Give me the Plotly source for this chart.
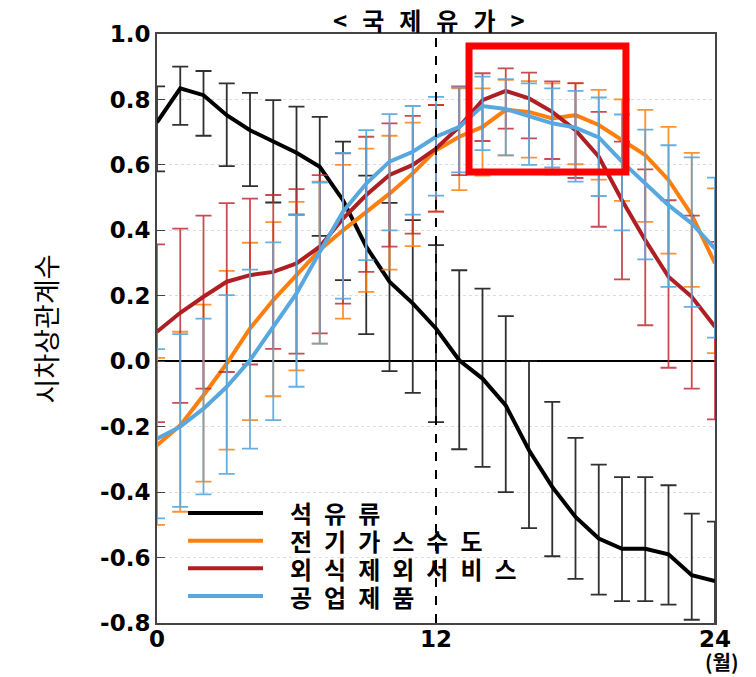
import plotly.graph_objects as go

months = list(range(25))

series_names = ["석유류", "전기가스수도", "외식제외서비스", "공업제품"]

oil = [0.73, 0.834, 0.813, 0.752, 0.706, 0.671, 0.637, 0.594, 0.492, 0.35, 0.243, 0.177, 0.10,
       0.003, -0.053, -0.135, -0.272, -0.384, -0.476, -0.542, -0.573, -0.573, -0.59, -0.654, -0.672]
oil_hi = [0.84, 0.90, 0.887, 0.849, 0.82, 0.798, 0.778, 0.747, 0.671, 0.567, 0.484, 0.431, 0.355,
          0.278, 0.222, 0.138, 0.0, -0.124, -0.234, -0.316, -0.354, -0.354, -0.379, -0.466, -0.49]
oil_lo = [0.58, 0.722, 0.689, 0.596, 0.535, 0.485, 0.448, 0.383, 0.248, 0.083, -0.03, -0.097, -0.186,
          -0.269, -0.323, -0.40, -0.51, -0.596, -0.665, -0.713, -0.733, -0.733, -0.744, -0.79, -0.86]

util = [-0.257, -0.196, -0.104, -0.007, 0.1, 0.187, 0.263, 0.34, 0.40, 0.457, 0.512, 0.574, 0.645,
        0.686, 0.716, 0.768, 0.762, 0.742, 0.752, 0.722, 0.676, 0.63, 0.554, 0.447, 0.299]
util_hi = [0.01, 0.09, 0.173, 0.276, 0.362, 0.425, 0.487, 0.549, 0.60, 0.65, 0.689, 0.729, 0.783,
           0.834, 0.834, 0.86, 0.856, 0.849, 0.849, 0.829, 0.80, 0.768, 0.716, 0.637, 0.528]
util_lo = [-0.50, -0.46, -0.368, -0.27, -0.18, -0.107, -0.028, 0.054, 0.13, 0.212, 0.28, 0.352, 0.457,
           0.523, 0.567, 0.629, 0.622, 0.57, 0.602, 0.555, 0.49, 0.426, 0.329, 0.227, 0.025]

svc = [0.09, 0.148, 0.197, 0.243, 0.263, 0.273, 0.299, 0.35, 0.436, 0.508, 0.569, 0.60, 0.65,
       0.716, 0.798, 0.826, 0.803, 0.762, 0.706, 0.625, 0.492, 0.37, 0.258, 0.197, 0.105]
svc_hi = [0.357, 0.405, 0.445, 0.483, 0.497, 0.508, 0.526, 0.569, 0.635, 0.686, 0.727, 0.75, 0.783,
          0.84, 0.88, 0.895, 0.882, 0.855, 0.85, 0.762, 0.671, 0.586, 0.492, 0.445, 0.365]
svc_lo = [-0.186, -0.127, -0.084, -0.033, -0.01, 0.038, 0.023, 0.085, 0.176, 0.273, 0.35, 0.39, 0.457,
          0.569, 0.673, 0.711, 0.681, 0.618, 0.56, 0.411, 0.25, 0.11, -0.02, -0.084, -0.178]

ind = [-0.237, -0.2, -0.145, -0.078, 0.003, 0.105, 0.207, 0.334, 0.457, 0.543, 0.61, 0.64, 0.686,
       0.716, 0.78, 0.771, 0.749, 0.727, 0.714, 0.684, 0.61, 0.543, 0.477, 0.421, 0.344]
ind_hi = [0.037, 0.083, 0.13, 0.202, 0.28, 0.363, 0.448, 0.546, 0.637, 0.706, 0.755, 0.78, 0.808,
          0.837, 0.87, 0.862, 0.849, 0.834, 0.826, 0.806, 0.754, 0.708, 0.66, 0.623, 0.561]
ind_lo = [-0.48, -0.445, -0.407, -0.344, -0.267, -0.18, -0.078, 0.054, 0.191, 0.309, 0.40, 0.448, 0.506,
          0.577, 0.645, 0.629, 0.60, 0.592, 0.549, 0.505, 0.40, 0.311, 0.227, 0.166, 0.072]

y_tickvals = [1.0, 0.8, 0.6, 0.4, 0.2, 0.0, -0.2, -0.4, -0.6, -0.8]
y_ticktext = ["1.0", "0.8", "0.6", "0.4", "0.2", "0.0", "-0.2", "-0.4", "-0.6", "-0.8"]
x_tickvals = [0, 12, 24]
x_ticktext = ["0", "12", "24"]

line_colors = ["#000000", "#FF7F0E", "#AE1F23", "#58A8DF"]
bar_colors = ["rgba(25,25,25,0.9)", "rgba(255,127,14,0.85)", "rgba(190,45,50,0.85)", "rgba(88,168,223,0.92)"]

data = [(oil, oil_hi, oil_lo), (util, util_hi, util_lo), (svc, svc_hi, svc_lo), (ind, ind_hi, ind_lo)]

fig = go.Figure()
for name, (v, hi, lo), lc, bc in zip(series_names, data, line_colors, bar_colors):
    fig.add_trace(go.Scatter(
        x=months, y=v, name=name, mode="lines",
        line=dict(color=lc, width=4),
        error_y=dict(type="data", symmetric=False,
                     array=[h - a for h, a in zip(hi, v)],
                     arrayminus=[a - l for l, a in zip(lo, v)],
                     color=bc, thickness=1.8, width=8),
        showlegend=False,
    ))

kfont = "Noto Sans CJK KR"
# vertical dashed line at 12
fig.add_shape(type="line", xref="x", yref="paper", x0=12, x1=12, y0=0, y1=1,
              line=dict(color="black", width=2, dash="dash"), layer="above")
# red highlight box
fig.add_shape(type="rect", xref="x", yref="y", x0=13.42, x1=20.17, y0=0.578, y1=0.963,
              line=dict(color="#FF0000", width=7), layer="above")

# custom legend
leg_y = [0.1868, 0.1397, 0.0929, 0.0458]
for name, lc, yy in zip(series_names, line_colors, leg_y):
    fig.add_shape(type="line", xref="paper", yref="paper", x0=0.0556, x1=0.19, y0=yy, y1=yy,
                  line=dict(color=lc, width=4), layer="above")
    fig.add_annotation(xref="paper", yref="paper", x=0.2348, y=yy, xanchor="left", yanchor="middle",
                       text=f'<span style="letter-spacing:12px">{name}</span>', showarrow=False,
                       font=dict(family=kfont, size=24, color="black", weight="bold"))

fig.add_annotation(xref="paper", yref="paper", x=0.5, y=1.024, xanchor="center", yanchor="middle",
                   text='<span style="letter-spacing:15px">&lt;국제유가&gt;</span>', showarrow=False,
                   font=dict(family=kfont, size=24, color="black", weight="bold"))
fig.add_annotation(xref="paper", yref="paper", x=-0.199, y=0.5, xanchor="center", yanchor="middle",
                   text="시차상관계수", textangle=-90, showarrow=False,
                   font=dict(family=kfont, size=27, color="black"))
fig.add_annotation(xref="paper", yref="paper", x=1.0125, y=-0.066, xanchor="center", yanchor="middle",
                   text="(월)", showarrow=False,
                   font=dict(family=kfont, size=20, color="black", weight="bold"))

fig.update_layout(
    width=748, height=669,
    margin=dict(l=149, r=41, t=26, b=54),
    paper_bgcolor="white", plot_bgcolor="white",
    xaxis=dict(range=[0, 24], tickvals=x_tickvals, ticktext=x_ticktext,
               showgrid=False, zeroline=False, showline=True, mirror=True,
               linecolor="#444", linewidth=2, ticks="", ticklabelstandoff=-6,
               tickfont=dict(family="DejaVu Sans", size=23, color="black", weight="bold")),
    yaxis=dict(range=[-0.8, 1.0], tickvals=y_tickvals, ticktext=y_ticktext,
               showgrid=True, gridcolor="#dddddd", griddash="dot", gridwidth=1,
               zeroline=True, zerolinecolor="black", zerolinewidth=2,
               showline=True, mirror=True, linecolor="#444", linewidth=2,
               ticks="inside", ticklen=8, tickcolor="#444",
               tickfont=dict(family="DejaVu Sans", size=23, color="black", weight="bold")),
)

fig.write_html("out.html")
